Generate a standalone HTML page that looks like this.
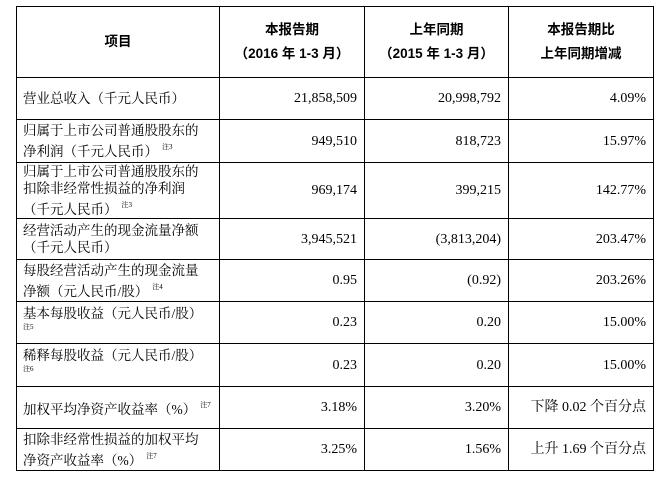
<!DOCTYPE html>
<html><head><meta charset="utf-8"><style>
html,body{margin:0;padding:0;background:#fff;width:662px;height:481px;overflow:hidden}
table{position:absolute;left:16px;top:6px;width:637px;border-collapse:collapse;table-layout:fixed;
font-family:"Liberation Serif","Noto Serif CJK SC",serif;font-size:14px;color:#000}
td{border:1px solid #000;padding:0 7px 0 7px;line-height:17px;vertical-align:middle;white-space:nowrap;overflow:hidden}
td.l{font-size:13.5px;padding-left:6px;padding-right:0}
td.n{text-align:right;font-size:14px}
th{border:1px solid #000;font-weight:bold;font-family:"Liberation Sans","Noto Sans CJK SC",sans-serif;font-size:13.5px;line-height:24px;text-align:center;padding:0}
sup{font-size:7px;vertical-align:7px;margin-left:4px}
.s{font-size:7px;display:block;line-height:10px}
</style></head><body>
<table>
<colgroup><col style="width:203px"><col style="width:145px"><col style="width:144px"><col style="width:145px"></colgroup>
<tr style="height:71px"><th>项目</th><th>本报告期<br>（2016 年 1-3 月）</th><th>上年同期<br>（2015 年 1-3 月）</th><th>本报告期比<br>上年同期增减</th></tr>
<tr style="height:42px"><td class="l">营业总收入（千元人民币）</td><td class="n">21,858,509</td><td class="n">20,998,792</td><td class="n">4.09%</td></tr>
<tr style="height:43px"><td class="l">归属于上市公司普通股股东的<br>净利润（千元人民币）<sup>注3</sup></td><td class="n">949,510</td><td class="n">818,723</td><td class="n">15.97%</td></tr>
<tr style="height:56px"><td class="l">归属于上市公司普通股股东的<br>扣除非经常性损益的净利润<br>（千元人民币）<sup>注3</sup></td><td class="n">969,174</td><td class="n">399,215</td><td class="n">142.77%</td></tr>
<tr style="height:41px"><td class="l">经营活动产生的现金流量净额<br>（千元人民币）</td><td class="n">3,945,521</td><td class="n">(3,813,204)</td><td class="n">203.47%</td></tr>
<tr style="height:42px"><td class="l">每股经营活动产生的现金流量<br>净额（元人民币/股）<sup>注4</sup></td><td class="n">0.95</td><td class="n">(0.92)</td><td class="n">203.26%</td></tr>
<tr style="height:42px"><td class="l" style="vertical-align:top;padding-top:3px">基本每股收益（元人民币/股）<span class="s">注5</span></td><td class="n">0.23</td><td class="n">0.20</td><td class="n">15.00%</td></tr>
<tr style="height:43px"><td class="l" style="vertical-align:top;padding-top:3px">稀释每股收益（元人民币/股）<span class="s">注6</span></td><td class="n">0.23</td><td class="n">0.20</td><td class="n">15.00%</td></tr>
<tr style="height:42px"><td class="l">加权平均净资产收益率（%）<sup>注7</sup></td><td class="n">3.18%</td><td class="n">3.20%</td><td class="n">下降 0.02 个百分点</td></tr>
<tr style="height:42px"><td class="l">扣除非经常性损益的加权平均<br>净资产收益率（%）<sup>注7</sup></td><td class="n">3.25%</td><td class="n">1.56%</td><td class="n">上升 1.69 个百分点</td></tr>
</table>
</body></html>
